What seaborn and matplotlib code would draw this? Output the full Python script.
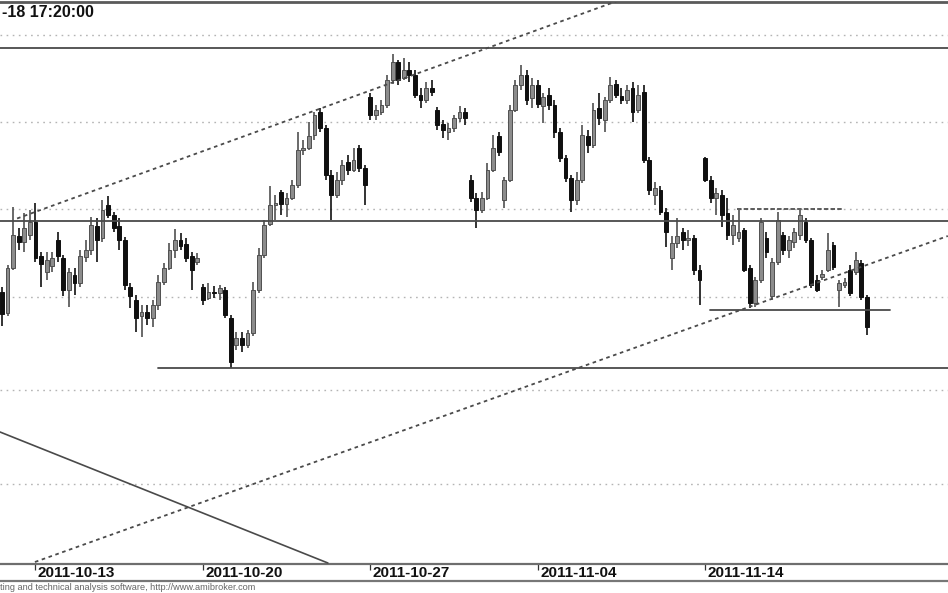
import numpy as np
import pandas as pd
import matplotlib
matplotlib.use("Agg")
import matplotlib.pyplot as plt
import matplotlib.transforms as mtransforms
import seaborn as sns

# ── 4-hour candles, price in points (chart has no visible price labels) ──
open_ = [308, 287, 332, 364, 358, 365, 378, 344, 328, 334, 360, 342, 310, 325, 317, 343,
         350, 374, 362, 395, 385, 374, 360, 313, 300, 284, 288, 282, 295, 318, 332, 350,
         360, 356, 344, 338, 313, 302, 308, 307, 310, 282, 255, 262, 255, 267, 310, 345,
         376, 395, 408, 396, 402, 415, 450, 452, 465, 488, 472, 425, 405, 420, 438, 430,
         452, 432, 503, 485, 488, 495, 520, 538, 522, 530, 525, 505, 500, 512, 490, 476,
         468, 472, 482, 488, 420, 402, 390, 402, 430, 464, 400, 420, 490, 515, 525, 502,
         515, 494, 505, 495, 468, 442, 422, 400, 420, 464, 455, 492, 480, 500, 516, 504,
         500, 512, 490, 508, 440, 405, 410, 388, 342, 357, 368, 360, 362, 330, 442, 420,
         402, 405, 387, 365, 362, 370, 332, 297, 320, 362, 304, 338, 365, 350, 358, 365,
         378, 360, 320, 323, 330, 355, 310, 315, 330, 328, 337, 303]
high = [313, 335, 393, 372, 387, 390, 397, 348, 348, 348, 368, 345, 332, 332, 350, 360,
        383, 382, 400, 404, 388, 382, 363, 317, 305, 295, 295, 300, 325, 337, 357, 371,
        367, 362, 348, 347, 316, 317, 314, 315, 313, 285, 268, 268, 270, 318, 352, 380,
        414, 405, 410, 407, 420, 468, 460, 478, 488, 492, 475, 430, 428, 440, 445, 452,
        455, 435, 507, 495, 500, 525, 546, 540, 542, 538, 530, 512, 518, 520, 493, 480,
        477, 485, 494, 492, 425, 407, 408, 437, 465, 468, 423, 495, 520, 535, 530, 522,
        520, 507, 512, 500, 472, 445, 425, 428, 475, 470, 497, 507, 503, 523, 520, 512,
        515, 518, 515, 515, 443, 418, 414, 392, 364, 382, 372, 370, 365, 335, 443, 424,
        412, 410, 402, 385, 390, 372, 335, 323, 382, 368, 342, 388, 368, 364, 372, 390,
        382, 362, 325, 330, 367, 358, 320, 322, 335, 348, 340, 305]
low = [274, 284, 330, 350, 348, 360, 338, 313, 320, 328, 338, 304, 293, 305, 313, 338,
       345, 338, 358, 382, 368, 350, 310, 292, 268, 263, 275, 273, 290, 315, 330, 342,
       350, 338, 310, 335, 295, 300, 302, 300, 282, 232, 250, 248, 252, 264, 307, 342,
       374, 380, 385, 383, 400, 412, 445, 450, 460, 468, 420, 380, 402, 415, 425, 428,
       428, 395, 480, 480, 485, 492, 516, 515, 520, 518, 502, 492, 497, 504, 470, 462,
       460, 468, 478, 475, 398, 372, 387, 400, 428, 444, 392, 418, 488, 510, 495, 492,
       492, 477, 490, 462, 438, 418, 388, 395, 417, 447, 452, 475, 468, 497, 502, 496,
       496, 478, 487, 437, 405, 395, 385, 353, 330, 352, 350, 354, 325, 295, 418, 397,
       385, 373, 360, 355, 358, 328, 292, 293, 317, 342, 300, 335, 345, 342, 352, 360,
       357, 312, 308, 320, 328, 330, 293, 312, 304, 325, 300, 265]
close = [286, 332, 365, 358, 372, 378, 342, 336, 340, 342, 344, 310, 328, 317, 344, 350,
         375, 360, 390, 385, 372, 360, 315, 304, 282, 288, 282, 295, 318, 332, 350, 360,
         354, 342, 330, 342, 300, 308, 307, 312, 285, 238, 262, 255, 267, 310, 345, 375,
         395, 397, 396, 402, 415, 450, 452, 464, 485, 472, 425, 405, 420, 435, 430, 440,
         432, 415, 485, 490, 495, 520, 538, 520, 530, 525, 505, 500, 512, 508, 475, 470,
         472, 482, 488, 482, 402, 390, 402, 430, 452, 448, 420, 490, 515, 525, 500, 515,
         496, 503, 495, 468, 442, 422, 400, 420, 465, 455, 490, 482, 500, 515, 505, 500,
         510, 488, 505, 440, 410, 412, 388, 368, 357, 364, 360, 362, 330, 320, 420, 402,
         407, 385, 365, 375, 368, 330, 297, 320, 378, 348, 338, 380, 350, 360, 368, 385,
         360, 315, 310, 326, 350, 333, 317, 318, 307, 340, 303, 273]

tick_bars = [6, 36, 66, 96, 126]
tick_labels = ["2011-10-13", "2011-10-20", "2011-10-27", "2011-11-04", "2011-11-14"]
grid_levels = [565, 478, 391, 303, 210, 116]

# drawn studies: horizontal levels (price, first bar, last bar)
solid_levels = [(552, -1, 170), (379, -1, 170), (232, 28, 170), (290, 126.9, 159.1)]
dashed_level = (391, 131.7, 150.7)
# trend lines as two anchor points (bar, price)
upper_channel = ([2.7, 110.75], [381.5, 600])
lower_channel = ([5.9, 169.5], [38, 364])
down_line = ([-0.36, 58.4], [168, 37])

df = pd.DataFrame({"open": open_, "high": high, "low": low, "close": close})
df["bar"] = np.arange(len(df))
df["up"] = df["close"] >= df["open"]

sns.set_theme(style="white")
plt.rcParams["font.family"] = ["Liberation Sans", "DejaVu Sans"]

fig = plt.figure(figsize=(9.48, 5.93), dpi=100)
W, H = 948, 593
ax = fig.add_axes([0, 29 / H, 1, (564 - 2) / H])
ax.set_xlim(-0.36, 169.53)
ax.set_ylim(36, 598)

# dotted grid
for g in grid_levels:
    ax.axhline(g, color="#b4b4b4", lw=1.0, ls=(0, (1.2, 3.2)), zorder=0)

# candles
for is_up, face, edge in [(True, "#8c8c8c", "#505050"), (False, "#101010", "#101010")]:
    d = df[df["up"] == is_up]
    ax.vlines(d["bar"], d["low"], d["high"], color=edge, lw=1.2, zorder=2)
    body_lo = np.minimum(d["open"], d["close"])
    body_h = np.maximum(np.abs(d["close"] - d["open"]), 1.5)
    ax.bar(d["bar"], body_h, bottom=body_lo, width=0.68, color=face,
           edgecolor=edge, linewidth=0.7, zorder=3)

# horizontal studies
for lvl, a, b in solid_levels:
    ax.plot([a, b], [lvl, lvl], color="#4a4a4a", lw=1.3, zorder=4)
ax.plot([dashed_level[1], dashed_level[2]], [dashed_level[0]] * 2,
        color="#505050", lw=1.3, ls=(0, (2.5, 1.2)), zorder=4)

# trend lines
for xs, ys, ls, lw in [(upper_channel[0], upper_channel[1], (0, (2, 2)), 1.3),
                       (lower_channel[0], lower_channel[1], (0, (2, 2)), 1.3),
                       (down_line[0], down_line[1], "-", 1.2)]:
    sns.lineplot(x=xs, y=ys, ax=ax, color="#4a4a4a", lw=lw, linestyle=ls,
                 sort=False, zorder=4, legend=False)

# axis cosmetics
for side in ["left", "right"]:
    ax.spines[side].set_visible(False)
ax.spines["top"].set_color("#5a5a5a")
ax.spines["top"].set_linewidth(2.0)
ax.spines["bottom"].set_color("#6e6e6e")
ax.spines["bottom"].set_linewidth(1.6)
ax.set_yticks([])
ax.set_xticks(tick_bars)
ax.set_xticklabels([])
ax.tick_params(axis="x", direction="out", length=4, width=0.9, color="#333333", bottom=True)
ax.set_xlabel("")
ax.set_ylabel("")

lbl_tf = mtransforms.blended_transform_factory(ax.transData, fig.transFigure)
lbl_tf = mtransforms.offset_copy(lbl_tf, fig=fig, x=2.5, y=0, units="dots")
for b, t in zip(tick_bars, tick_labels):
    ax.text(b, 1 - 573 / H, t, transform=lbl_tf, ha="left", va="center",
            fontsize=11, fontweight="bold", color="#111111")

# frame line under the date strip
fig.add_artist(plt.Line2D([0, 1], [1 - 581 / H] * 2, transform=fig.transFigure,
                          color="#777777", lw=1.6))

# title fragment as shown in the screenshot
fig.text(2 / W, 1 - 17 / H, "-18 17:20:00", ha="left", va="baseline",
         fontsize=11.5, fontweight="bold", color="#111111")

# footer fragment
fig.text(0, 1 - 588 / H,
         "ting and technical analysis software, http://www.amibroker.com",
         ha="left", va="center", fontsize=6.6, color="#666666")

fig.savefig("out.png", dpi=100)
